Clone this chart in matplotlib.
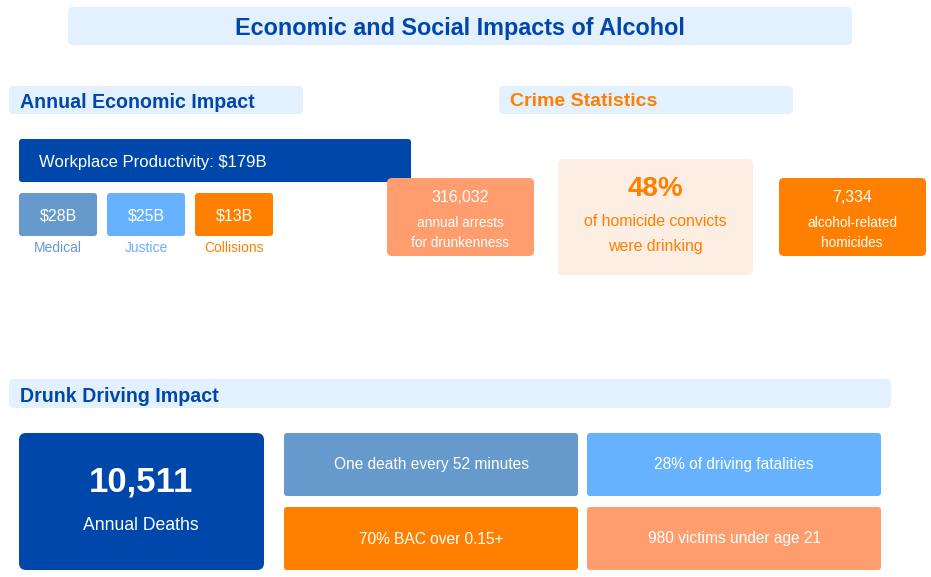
import matplotlib
matplotlib.use("Agg")
import matplotlib.pyplot as plt
from matplotlib.patches import FancyBboxPatch

plt.rcParams['font.family'] = ['Liberation Sans', 'DejaVu Sans']

# data
title = "Economic and Social Impacts of Alcohol"
workplace_cost = 179
cost_labels = ["Medical", "Justice", "Collisions"]
cost_values = [28, 25, 13]
crime_values = ["316,032", "48%", "7,334"]
crime_texts = [["annual arrests", "for drunkenness"],
               ["of homicide convicts", "were drinking"],
               ["alcohol-related", "homicides"]]
annual_deaths = "10,511"
driving_facts = ["One death every 52 minutes", "28% of driving fatalities",
                 "70% BAC over 0.15+", "980 victims under age 21"]

DARK = "#0047AB"
MED = "#6699CC"
JUS = "#66B2FF"
ORANGE = "#FF7F00"
SALMON = "#FF9D6E"
LIGHT = "#E3F0FD"
PEACH = "#FDEEE3"


def box(ax, x0, y0, x1, y1, color, r=5):
    p = FancyBboxPatch((x0, y0), x1 - x0, y1 - y0,
                       boxstyle="round,pad=0,rounding_size=%d" % r,
                       fc=color, ec="none")
    ax.add_patch(p)


def txt(ax, x, y, s, size, color, ha="center", bold=False):
    # nudge down a little so the glyphs sit like the browser render
    ax.text(x, y + 2, s, ha=ha, va="center", fontsize=size, color=color,
            fontweight="bold" if bold else "normal")


fig = plt.figure(figsize=(9.31, 5.77), dpi=100)
ax = fig.add_axes([0, 0, 1, 1])
ax.set_xlim(0, 931)
ax.set_ylim(577, 0)
ax.axis("off")

# title
box(ax, 68, 7, 852, 45, LIGHT)
txt(ax, 460, 26, title, 16.8, DARK, bold=True)

# economic impact
box(ax, 9, 86, 303, 114, LIGHT)
txt(ax, 20, 100, "Annual Economic Impact", 14.1, DARK, ha="left", bold=True)
box(ax, 19, 139, 411, 182, DARK, 3)
txt(ax, 39, 160, "Workplace Productivity: $%dB" % workplace_cost,
    12, "white", ha="left")
cost_colors = [MED, JUS, ORANGE]
for i, (lab, v) in enumerate(zip(cost_labels, cost_values)):
    x0 = 19 + i * 88
    box(ax, x0, 193, x0 + 78, 236, cost_colors[i], 3)
    txt(ax, x0 + 39, 214, "$%dB" % v, 11.5, "white")
    txt(ax, x0 + 39, 246, lab, 10, cost_colors[i])

# crime statistics
box(ax, 499, 86, 793, 114, LIGHT)
txt(ax, 510, 100, "Crime Statistics", 14, ORANGE, ha="left", bold=True)

box(ax, 387, 178, 534, 256, SALMON)
txt(ax, 460, 196, crime_values[0], 11.5, "white")
txt(ax, 460, 221, crime_texts[0][0], 9.8, "white")
txt(ax, 460, 241, crime_texts[0][1], 9.8, "white")

box(ax, 558, 159, 753, 275, PEACH)
txt(ax, 655, 187, crime_values[1], 20, ORANGE, bold=True)
txt(ax, 655, 220, crime_texts[1][0], 11.4, ORANGE)
txt(ax, 655, 245, crime_texts[1][1], 11.4, ORANGE)

box(ax, 779, 178, 926, 256, ORANGE)
txt(ax, 852, 196, crime_values[2], 11.5, "white")
txt(ax, 852, 221, crime_texts[2][0], 9.8, "white")
txt(ax, 852, 241, crime_texts[2][1], 9.8, "white")

# drunk driving
box(ax, 9, 379, 891, 408, LIGHT)
txt(ax, 20, 394, "Drunk Driving Impact", 14.1, DARK, ha="left", bold=True)

box(ax, 19, 433, 264, 570, DARK, 7)
txt(ax, 141, 480, annual_deaths, 25, "white", bold=True)
txt(ax, 141, 523, "Annual Deaths", 12.7, "white")

fact_colors = [MED, JUS, ORANGE, SALMON]
for i, s in enumerate(driving_facts):
    col, row = i % 2, i // 2
    x0 = 284 + col * 303
    y0 = 433 + row * 74
    box(ax, x0, y0, x0 + 294, y0 + 63, fact_colors[i], 3)
    txt(ax, x0 + 147, y0 + 30, s, 11.2, "white")

fig.savefig("out.png", dpi=100)
